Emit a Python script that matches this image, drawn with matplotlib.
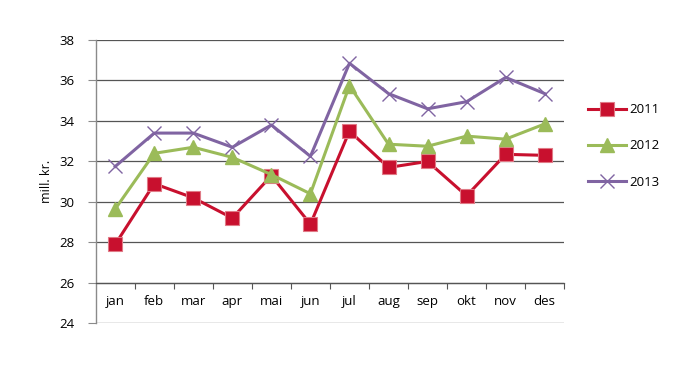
import matplotlib
matplotlib.use("Agg")
import matplotlib.pyplot as plt

months = ["jan", "feb", "mar", "apr", "mai", "jun", "jul", "aug", "sep", "okt", "nov", "des"]
s2011 = [27.9, 30.9, 30.2, 29.2, 31.3, 28.9, 33.5, 31.7, 32.0, 30.3, 32.35, 32.3]
s2012 = [29.65, 32.4, 32.7, 32.2, 31.35, 30.4, 35.75, 32.85, 32.75, 33.25, 33.1, 33.85]
s2013 = [31.75, 33.4, 33.4, 32.7, 33.8, 32.25, 36.85, 35.35, 34.6, 34.95, 36.15, 35.35]
yticks = [24, 26, 28, 30, 32, 34, 36, 38]

plt.rcParams['font.family'] = ['Open Sans', 'DejaVu Sans']

fig = plt.figure(figsize=(7.0, 3.73), dpi=100)
ax = fig.add_axes([0.1367, 0.1332, 0.806 - 0.1367, 0.8928 - 0.1332])

x = list(range(len(months)))
ax.set_xlim(-0.5, len(months) - 0.5)
ax.set_ylim(24, 38)

grid_c = "#555555"
for yv in yticks[1:]:
    ax.axhline(yv, color=grid_c, lw=0.9, zorder=1)
ax.axhline(24, color="#8a8a8a", lw=1.0, zorder=1)

ax.plot(x, s2011, color="#c8102e", lw=2.2, marker="s", ms=9.5,
        mfc="#c8102e", mec="#e07a86", mew=0.8, label="2011", zorder=3)
ax.plot(x, s2012, color="#9bbb59", lw=2.2, marker="^", ms=10,
        mfc="#9bbb59", mec="#9bbb59", label="2012", zorder=3)
ax.plot(x, s2013, color="#8064a2", lw=2.2, marker="x", ms=10, mew=1.0,
        mec="#8064a2", label="2013", zorder=4)

for s in ["top", "right"]:
    ax.spines[s].set_visible(False)
ax.spines["left"].set_color("#8a8a8a")
ax.spines["left"].set_linewidth(1.0)
ax.spines["bottom"].set_position(("data", 26))
ax.spines["bottom"].set_color(grid_c)
ax.spines["bottom"].set_linewidth(0.9)

ax.set_yticks(yticks)
ax.set_yticklabels([str(v) for v in yticks], fontsize=9.5)
ax.tick_params(axis="y", length=6, width=0.8, color="#8a8a8a", pad=9)

bounds = [i + 0.5 for i in range(len(months))]
ax.set_xticks(bounds)
ax.set_xticklabels([])
ax.tick_params(axis="x", length=4, width=0.8, color=grid_c, direction="out")
for i, m in enumerate(months):
    ax.text(i, 25.1, m, ha="center", va="center", fontsize=9.5)

ax.set_ylabel("mill. kr.", fontsize=9, labelpad=5)

leg = ax.legend(loc="center left", bbox_to_anchor=(1.04, 0.626), frameon=False,
                fontsize=9.5, handlelength=2.9, labelspacing=1.75, handletextpad=0.2,
                borderaxespad=0.0)

fig.savefig("out.png", dpi=100)
